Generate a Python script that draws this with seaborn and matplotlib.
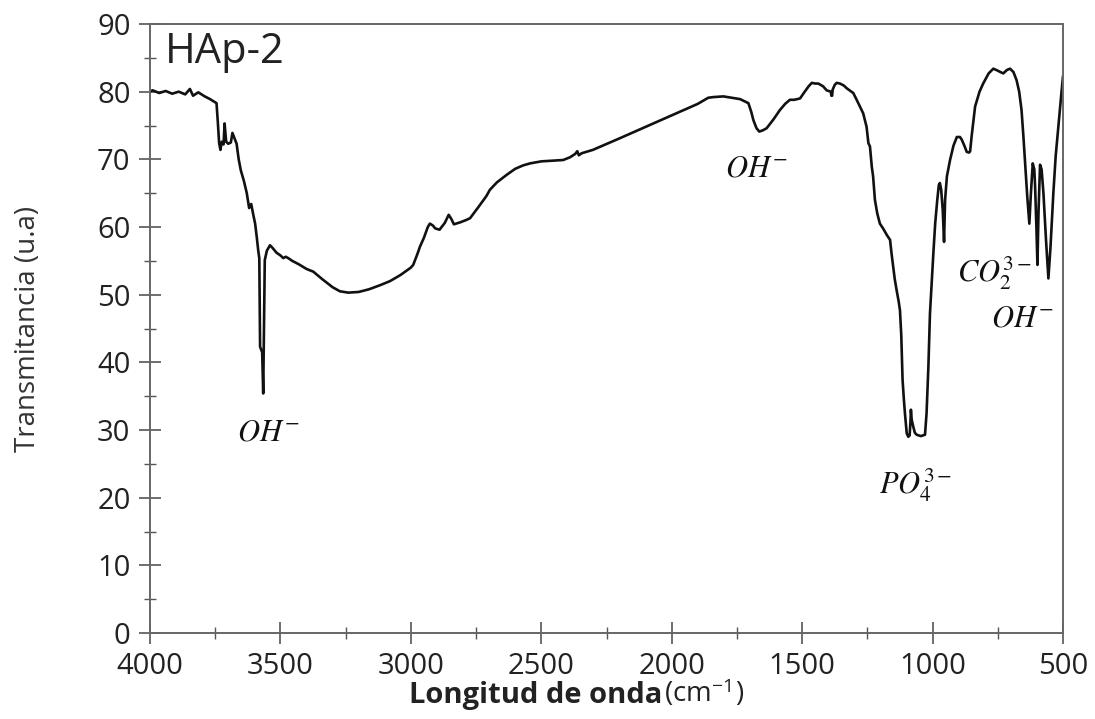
import matplotlib
matplotlib.use("Agg")
import matplotlib.pyplot as plt
import seaborn as sns
import numpy as np
from matplotlib.ticker import MultipleLocator

# ---- data ----
wavenumber = [4000, 3990, 3965, 3940, 3915, 3890, 3865, 3847, 3835, 3815, 3790, 3770, 3745,
              3740, 3735, 3730, 3725, 3718, 3714, 3708, 3700, 3690, 3684, 3676, 3668, 3660,
              3652, 3640, 3629, 3620, 3612, 3604, 3597, 3591, 3585, 3581, 3578, 3570, 3566,
              3564, 3560, 3552, 3540, 3530, 3515, 3500, 3489, 3480, 3470, 3455, 3430, 3400,
              3374, 3340, 3300, 3272, 3240, 3200, 3160, 3118, 3080, 3040, 3000, 2991, 2975,
              2965, 2950, 2935, 2927, 2915, 2907, 2890, 2870, 2855, 2845, 2835, 2810, 2790,
              2773, 2740, 2710, 2697, 2670, 2633, 2600, 2570, 2543, 2500, 2460, 2416, 2390,
              2370, 2362, 2356, 2345, 2302, 2200, 2100, 2000, 1900, 1860, 1840, 1802, 1770,
              1738, 1706, 1695, 1687, 1675, 1664, 1650, 1636, 1610, 1585, 1565, 1547, 1530,
              1508, 1490, 1475, 1463, 1450, 1438, 1420, 1406, 1390, 1388, 1385, 1383, 1375,
              1368, 1355, 1340, 1329, 1304, 1291, 1272, 1266, 1253, 1246, 1240, 1233, 1228,
              1221, 1212, 1202, 1190, 1175, 1163, 1157, 1151, 1145, 1138, 1130, 1125, 1120,
              1115, 1110, 1106, 1099, 1093, 1088, 1085, 1083, 1080, 1074, 1068, 1061, 1045,
              1029, 1023, 1016, 1010, 1003, 997, 990, 982, 976, 972, 967, 961, 956, 952, 945,
              933, 920, 907, 895, 888, 878, 869, 860, 856, 850, 837, 820, 806, 785, 767, 750,
              740, 729, 715, 703, 690, 678, 668, 659, 652, 646, 637, 629, 623, 616, 610, 607,
              602, 598, 594, 588, 582, 575, 565, 556, 548, 537, 528, 518, 508, 500]
transmittance = [80.0, 80.2, 79.8, 80.1, 79.7, 80.0, 79.6, 80.4, 79.4, 79.9, 79.3, 78.9, 78.3,
                 75.5, 72.4, 71.4, 72.6, 72.2, 75.3, 72.6, 72.3, 72.5, 73.9, 73.1, 72.3, 70.0,
                 68.4, 66.8, 65.0, 62.8, 63.4, 61.8, 60.5, 58.6, 56.5, 55.4, 42.3, 41.5, 35.4,
                 42.0, 55.1, 56.5, 57.3, 56.9, 56.2, 55.8, 55.4, 55.6, 55.4, 55.0, 54.5, 53.8,
                 53.4, 52.3, 51.1, 50.5, 50.3, 50.4, 50.8, 51.4, 52.0, 52.9, 54.0, 54.4, 56.0,
                 57.1, 58.4, 60.0, 60.5, 60.2, 59.8, 59.6, 60.6, 61.8, 61.2, 60.4, 60.7, 61.0,
                 61.3, 63.0, 64.6, 65.5, 66.6, 67.7, 68.6, 69.1, 69.4, 69.7, 69.8, 69.9, 70.3,
                 70.8, 71.2, 70.6, 70.9, 71.4, 73.1, 74.8, 76.5, 78.2, 79.1, 79.2, 79.3, 79.1,
                 78.9, 78.3, 77.0, 75.8, 74.6, 74.1, 74.3, 74.6, 75.9, 77.3, 78.2, 78.8, 78.8,
                 79.0, 80.0, 80.8, 81.3, 81.2, 81.2, 80.8, 80.2, 80.0, 79.4, 79.4, 80.3, 81.0,
                 81.3, 81.2, 80.9, 80.5, 79.8, 78.8, 77.3, 76.8, 74.8, 72.4, 71.9, 68.9, 67.5,
                 64.0, 62.0, 60.5, 59.8, 58.8, 58.1, 56.0, 54.1, 52.3, 50.7, 49.0, 47.7, 44.0,
                 37.4, 34.5, 32.5, 29.5, 29.0, 29.2, 31.0, 33.0, 31.5, 30.5, 29.6, 29.3, 29.1,
                 29.3, 32.5, 39.4, 47.2, 52.0, 56.1, 60.5, 64.0, 66.2, 66.5, 65.5, 62.5, 57.8,
                 64.0, 67.5, 69.9, 72.0, 73.3, 73.3, 72.9, 72.0, 71.1, 71.0, 71.2, 73.5, 77.8,
                 80.0, 81.2, 82.7, 83.4, 83.1, 82.9, 82.7, 83.2, 83.4, 82.9, 81.7, 80.0, 77.3,
                 73.5, 69.9, 64.5, 60.5, 65.0, 69.4, 68.5, 66.0, 60.0, 54.4, 62.0, 69.2, 68.5,
                 65.0, 58.0, 52.4, 57.0, 65.0, 70.5, 74.8, 79.0, 82.3]

band_labels = [r"$OH^{-}$", r"$OH^{-}$", r"$PO_4^{3-}$", r"$CO_2^{3-}$", r"$OH^{-}$"]
band_x = [3548, 1677, 1067, 762, 655]
band_y = [29.7, 68.7, 21.9, 53.2, 46.5]
sample_name = "HAp-2"
x_ticks = [4000, 3500, 3000, 2500, 2000, 1500, 1000, 500]
y_ticks = [0, 10, 20, 30, 40, 50, 60, 70, 80, 90]

# ---- style ----
sns.set_style("ticks")
plt.rcParams['font.family'] = ['Open Sans', 'DejaVu Sans']
plt.rcParams['mathtext.fontset'] = 'stix'

fig = plt.figure(figsize=(10.95, 7.19), dpi=100)
ax = fig.add_axes([150/1095, 1 - 633/719, (1063-150)/1095, (633-24)/719])

sns.lineplot(x=wavenumber, y=transmittance, sort=False, estimator=None,
             color="#111111", linewidth=1.9, ax=ax)

ax.set_xlim(4000, 500)
ax.set_ylim(0, 90)
ax.set_xticks(x_ticks)
ax.set_yticks(y_ticks)
ax.xaxis.set_minor_locator(MultipleLocator(250))
ax.yaxis.set_minor_locator(MultipleLocator(5))
ax.tick_params(axis='both', which='major', direction='inout', length=16, width=1.2,
               color='#555555', labelsize=21, labelcolor='#222222')
ax.tick_params(axis='both', which='minor', direction='inout', length=9, width=1.0,
               color='#555555')
ax.tick_params(axis='x', pad=6)
ax.tick_params(axis='y', pad=6)
for s in ax.spines.values():
    s.set_color('#666666')
    s.set_linewidth(1.4)

ax.set_ylabel("Transmitancia (u.a)", fontsize=20, color='#333333')
ax.yaxis.set_label_coords(-0.118, 0.5)
ax.set_xlabel("")
fig.text(662/1095, 1 - 695/719, "Longitud de onda", fontsize=21, fontweight='bold',
         ha='right', va='center', color='#222222')
fig.text(664/1095, 1 - 693/719, r"(cm$^{\mathregular{-1}}$)", fontsize=20,
         ha='left', va='center', color='#222222')

for lab, bx, by in zip(band_labels, band_x, band_y):
    ax.text(bx, by, lab, fontsize=22, ha='center', va='center', color='#111111')

ax.text(3943, 85.9, sample_name, fontsize=30, ha='left', va='center', color='#222222')

fig.savefig("out.png", dpi=100)
